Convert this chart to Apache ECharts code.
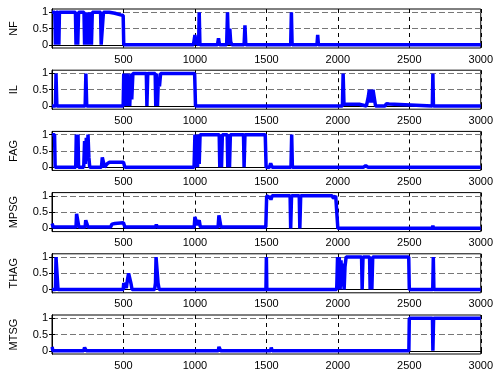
<!DOCTYPE html>
<html>
<head>
<meta charset="utf-8">
<script src="https://cdn.jsdelivr.net/npm/echarts@6/dist/echarts.min.js"></script>
<style>
  html, body { margin: 0; padding: 0; background: #fff; }
  #chart { width: 496px; height: 372px; }
</style>
</head>
<body>
<div id="chart"></div>
<script>
// class names, one subplot each
const classNames = ["NF", "IL", "FAG", "MPSG", "THAG", "MTSG"];
const yTicks = [0, 0.5, 1];

// breakpoints [sample, output]
const nf = [[1,1],[20,1],[24,0],[30,1],[44,1],[48,0],[52,1],[164,1],[168,0],[174,1],[180,0],[186,1],[224,1],[228,0],[234,1],[240,0],[246,0.9],[252,0],[258,1],[264,0.3],[270,1],[276,0],[282,1],[340,1],[344,0],[356,0],[360,1],[400,1],[440,0.97],[480,0.92],[498,0.9],[502,0],[990,0],[1000,0.3],[1008,0.05],[1026,0],[1030,1],[1035,0],[1158,0],[1165,0.2],[1172,0],[1222,0],[1228,1],[1234,0],[1244,0.5],[1250,0.1],[1258,0],[1344,0],[1350,0.6],[1356,0],[1670,0],[1675,1],[1680,0],[1854,0],[1859,0.3],[1864,0],[3000,0]];
const il = [[1,0],[24,0],[28,1],[34,0],[232,0],[237,1],[243,0],[498,0],[502,1],[510,0.1],[514,1],[520,0],[526,1],[532,0],[538,0.9],[544,0],[552,1],[558,0.2],[566,1],[660,1],[664,0],[670,1],[722,1],[726,0],[732,1],[738,0],[744,0.8],[752,0.6],[760,1],[998,1],[1004,0],[2032,0],[2037,1],[2043,0.05],[2060,0.05],[2150,0.05],[2200,0],[2214,0.3],[2220,0.5],[2226,0.1],[2232,0.5],[2240,0.1],[2246,0.5],[2258,0.5],[2264,0],[2330,0],[2340,0.07],[2358,0.06],[2368,0],[2661,0],[2665,1],[2669,0],[3000,0]];
const fag = [[1,1],[18,1],[22,0],[166,0],[170,1],[176,0],[182,1],[186,0],[222,0],[228,0.8],[234,0.1],[240,0.9],[246,0.2],[252,1],[258,0.3],[264,0],[346,0],[352,0.3],[362,0.3],[368,0],[385,0.1],[400,0.15],[500,0.15],[510,0],[994,0],[1000,1],[1006,0],[1012,1],[1018,0],[1024,1],[1030,0.1],[1036,1],[1170,1],[1174,0],[1180,1],[1186,0],[1192,1],[1226,1],[1230,0],[1236,1],[1242,0],[1248,1],[1340,1],[1344,0],[1350,1],[1492,1],[1498,0],[1522,0],[1530,0.12],[1540,0],[1672,0],[1677,1],[1682,0],[2180,0],[2195,0.05],[2210,0],[3000,0]];
const mpsg = [[1,0.15],[8,0.04],[168,0.04],[172,0.45],[184,0.45],[188,0.04],[232,0.04],[236,0.25],[248,0.22],[252,0.04],[410,0.04],[420,0.13],[440,0.15],[500,0.17],[510,0.04],[725,0.04],[730,0.12],[736,0.04],[995,0.04],[1000,0.35],[1010,0.3],[1016,0.1],[1024,0.1],[1030,0.25],[1038,0.04],[1162,0.04],[1168,0.4],[1176,0.4],[1182,0.04],[1496,0.04],[1502,1],[1526,0.95],[1532,0.88],[1540,1],[1666,1],[1670,0],[1676,1],[1730,1],[1734,0],[1740,1],[1960,1],[1970,0.92],[1985,1],[1992,1],[2000,0],[2660,0],[2665,0.08],[2670,0],[3000,0]];
const thag = [[1,0],[24,0],[28,1],[38,1],[42,0],[498,0],[502,0.2],[514,0.2],[520,0.05],[528,0.3],[536,0.5],[546,0.45],[552,0.2],[560,0],[670,0],[675,0.05],[680,0],[718,0],[724,0.2],[728,1],[736,1],[742,0.2],[750,0],[1497,0],[1500,1],[1503,0],[1722,0],[1730,0.03],[1738,0],[1992,0],[1998,1],[2004,0.2],[2010,1],[2016,0],[2022,0.9],[2030,0.1],[2036,0.8],[2044,0],[2050,0.7],[2058,1],[2166,1],[2170,0],[2176,1],[2222,1],[2226,0],[2232,1],[2238,0],[2244,1],[2496,1],[2500,0],[2664,0],[2668,1],[2672,0],[3000,0]];
const mtsg = [[1,0.12],[6,0],[222,0],[228,0.1],[236,0.1],[240,0],[1164,0],[1168,0.12],[1176,0.12],[1180,0],[1530,0],[1534,0.1],[1540,0],[2164,0],[2168,0.06],[2174,0],[2497,0],[2500,1],[2662,1],[2665,0],[2670,1],[3000,1]];

const seriesData = [nf, il, fag, mpsg, thag, mtsg];

const font = "Liberation Sans, Arial, sans-serif";
const chart = echarts.init(document.getElementById("chart"), null, { renderer: "canvas" });

const grids = [];
const xAxes = [];
const yAxes = [];
const series = [];
const mirrorX = [];
const mirrorY = [];

classNames.forEach((name, i) => {
  grids.push({
    left: 50,
    width: 433,
    top: 9 + i * 61.2,
    height: 39,
    show: true,
    borderColor: "#000",
    borderWidth: 1,
  });
  xAxes.push({
    gridIndex: i,
    type: "value",
    min: 0,
    max: 3000,
    interval: 500,
    axisLine: { show: true, lineStyle: { color: "#000", width: 1 } },
    axisTick: { show: true, inside: true, length: 3, lineStyle: { color: "#000" } },
    axisLabel: {
      showMinLabel: false,
      color: "#000",
      fontSize: 11,
      fontFamily: font,
      margin: 6,
      formatter: (v) => String(v),
    },
    splitLine: { show: true, lineStyle: { color: "#000", type: [4, 4], width: 1 } },
  });
  mirrorX.push({
    gridIndex: i,
    type: "value",
    position: "top",
    min: 0,
    max: 3000,
    interval: 500,
    axisLine: { show: true, lineStyle: { color: "#000", width: 1 } },
    axisTick: { show: true, inside: true, length: 3, lineStyle: { color: "#000" } },
    axisLabel: { show: false },
    splitLine: { show: false },
  });
  yAxes.push({
    gridIndex: i,
    type: "value",
    min: -0.1,
    max: 1.1,
    name,
    nameLocation: "middle",
    nameGap: 33,
    nameTextStyle: { color: "#000", fontSize: 11, fontFamily: font },
    axisLine: { show: true, lineStyle: { color: "#000", width: 1 } },
    axisTick: { show: true, inside: true, length: 3, customValues: yTicks, lineStyle: { color: "#000" } },
    axisLabel: { customValues: yTicks, color: "#000", fontSize: 11, fontFamily: font, margin: 4 },
    splitLine: { show: true, lineStyle: { color: "#777", type: [6, 3], width: 1 } },
  });
  mirrorY.push({
    gridIndex: i,
    type: "value",
    position: "right",
    min: -0.1,
    max: 1.1,
    axisLine: { show: true, lineStyle: { color: "#000", width: 1 } },
    axisTick: { show: true, inside: true, length: 3, customValues: yTicks, lineStyle: { color: "#000" } },
    axisLabel: { show: false },
    splitLine: { show: false },
  });
  series.push({
    type: "line",
    xAxisIndex: i,
    yAxisIndex: i,
    data: seriesData[i],
    showSymbol: false,
    symbol: "none",
    lineStyle: { color: "#0000ff", width: 3.5 },
    itemStyle: { color: "#0000ff" },
    animation: false,
  });
});

chart.setOption({
  animation: false,
  backgroundColor: "#fff",
  grid: grids,
  xAxis: xAxes.concat(mirrorX),
  yAxis: yAxes.concat(mirrorY),
  series,
});
</script>
</body>
</html>
